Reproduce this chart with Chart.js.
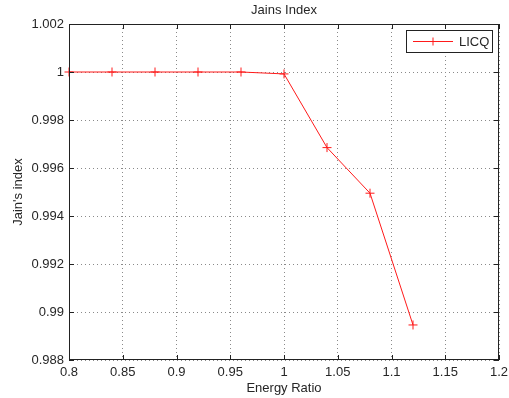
<!DOCTYPE html>
<html lang="en">
<head>
  <meta charset="UTF-8">
  <title>Jains Index</title>
  <script src="https://cdn.jsdelivr.net/npm/chart.js"></script>
  <style>
    html, body { margin: 0; padding: 0; background: #fff; }
    #wrap { width: 509px; height: 398px; }
  </style>
</head>
<body>
  <div id="wrap"><canvas id="grafico" width="509" height="398"></canvas></div>

  <script>
    // dati
    const energyRatio = [0.8, 0.84, 0.88, 0.92, 0.96, 1.0, 1.04, 1.08, 1.12];
    const jainLICQ = [1.0, 1.0, 1.0, 1.0, 1.0, 0.99992, 0.99685, 0.99495, 0.98946];
    const xTicks = [0.8, 0.85, 0.9, 0.95, 1.0, 1.05, 1.1, 1.15, 1.2];
    const yTicks = [0.988, 0.99, 0.992, 0.994, 0.996, 0.998, 1.0, 1.002];
    const seriesName = 'LICQ';

    const FONT = '"Liberation Sans", Arial, Helvetica, sans-serif';
    const TXT = '#262626';
    const RED = '#ff1a1a';

    // bordo, tacche interne, titoli e legenda in stile MATLAB
    const matlabFrame = {
      id: 'matlabFrame',
      afterDraw(chart) {
        const { ctx, chartArea: a, scales } = chart;
        ctx.save();
        ctx.strokeStyle = '#222';
        ctx.lineWidth = 1;
        ctx.strokeRect(a.left + 0.5, a.top + 0.5, a.right - a.left - 1, a.bottom - a.top - 1);
        ctx.beginPath();
        xTicks.forEach(v => {
          const x = Math.round(scales.x.getPixelForValue(v)) + 0.5;
          ctx.moveTo(x, a.bottom); ctx.lineTo(x, a.bottom - 5);
          ctx.moveTo(x, a.top); ctx.lineTo(x, a.top + 5);
        });
        yTicks.forEach(v => {
          const y = Math.round(scales.y.getPixelForValue(v)) + 0.5;
          ctx.moveTo(a.left, y); ctx.lineTo(a.left + 5, y);
          ctx.moveTo(a.right, y); ctx.lineTo(a.right - 5, y);
        });
        ctx.stroke();

        // titoli
        ctx.fillStyle = TXT;
        ctx.font = '13px ' + FONT;
        ctx.textAlign = 'center';
        ctx.textBaseline = 'middle';
        const cx = (a.left + a.right) / 2;
        ctx.fillText('Jains Index', cx, 10);
        ctx.fillText('Energy Ratio', cx, 388);
        ctx.save();
        ctx.translate(18, (a.top + a.bottom) / 2);
        ctx.rotate(-Math.PI / 2);
        ctx.fillText("Jain's index", 0, 0);
        ctx.restore();

        // legenda
        const lx = 406, ly = 30, lw = 87, lh = 23;
        ctx.fillStyle = '#fff';
        ctx.fillRect(lx, ly, lw, lh);
        ctx.strokeStyle = '#222';
        ctx.strokeRect(lx + 0.5, ly + 0.5, lw - 1, lh - 1);
        const my = ly + lh / 2;
        ctx.strokeStyle = RED;
        ctx.beginPath();
        ctx.moveTo(413, my); ctx.lineTo(453, my);
        ctx.moveTo(433, my - 4); ctx.lineTo(433, my + 4);
        ctx.stroke();
        ctx.fillStyle = TXT;
        ctx.textAlign = 'left';
        ctx.fillText(seriesName, 459, my + 1);
        ctx.restore();
      }
    };

    const ctx = document.getElementById('grafico').getContext('2d');
    const grafico = new Chart(ctx, {
      type: 'line',
      data: {
        datasets: [{
          label: seriesName,
          data: energyRatio.map((x, i) => ({ x: x, y: jainLICQ[i] })),
          borderColor: RED,
          backgroundColor: RED,
          borderWidth: 1,
          pointStyle: 'cross',
          pointRadius: 4.5,
          pointBorderWidth: 1,
          pointBorderColor: RED,
          tension: 0,
          clip: 8
        }]
      },
      options: {
        responsive: false,
        animation: false,
        layout: { padding: { top: 24, right: 10, left: 0, bottom: 0 } },
        plugins: { legend: { display: false }, title: { display: false }, tooltip: { enabled: false } },
        scales: {
          x: {
            type: 'linear',
            min: 0.8, max: 1.2,
            afterBuildTicks: s => { s.ticks = xTicks.map(v => ({ value: v })); },
            afterFit: s => { s.height = 38; s.paddingLeft = 0; s.paddingRight = 0; },
            grid: { color: '#8a8a8a', lineWidth: 1, drawTicks: false },
            border: { display: false, dash: [1, 3] },
            ticks: {
              color: TXT, padding: 5,
              font: { family: FONT, size: 13 },
              maxRotation: 0,
              callback: v => String(parseFloat(v.toFixed(2)))
            }
          },
          y: {
            type: 'linear',
            min: 0.988, max: 1.002,
            afterBuildTicks: s => { s.ticks = yTicks.map(v => ({ value: v })); },
            afterFit: s => { s.width = 69; s.paddingTop = 0; s.paddingBottom = 0; },
            grid: { color: '#8a8a8a', lineWidth: 1, drawTicks: false },
            border: { display: false, dash: [1, 3] },
            ticks: {
              color: TXT, padding: 5,
              font: { family: FONT, size: 13 },
              callback: v => String(parseFloat(v.toFixed(3)))
            }
          }
        }
      },
      plugins: [matlabFrame]
    });
  </script>
</body>
</html>
